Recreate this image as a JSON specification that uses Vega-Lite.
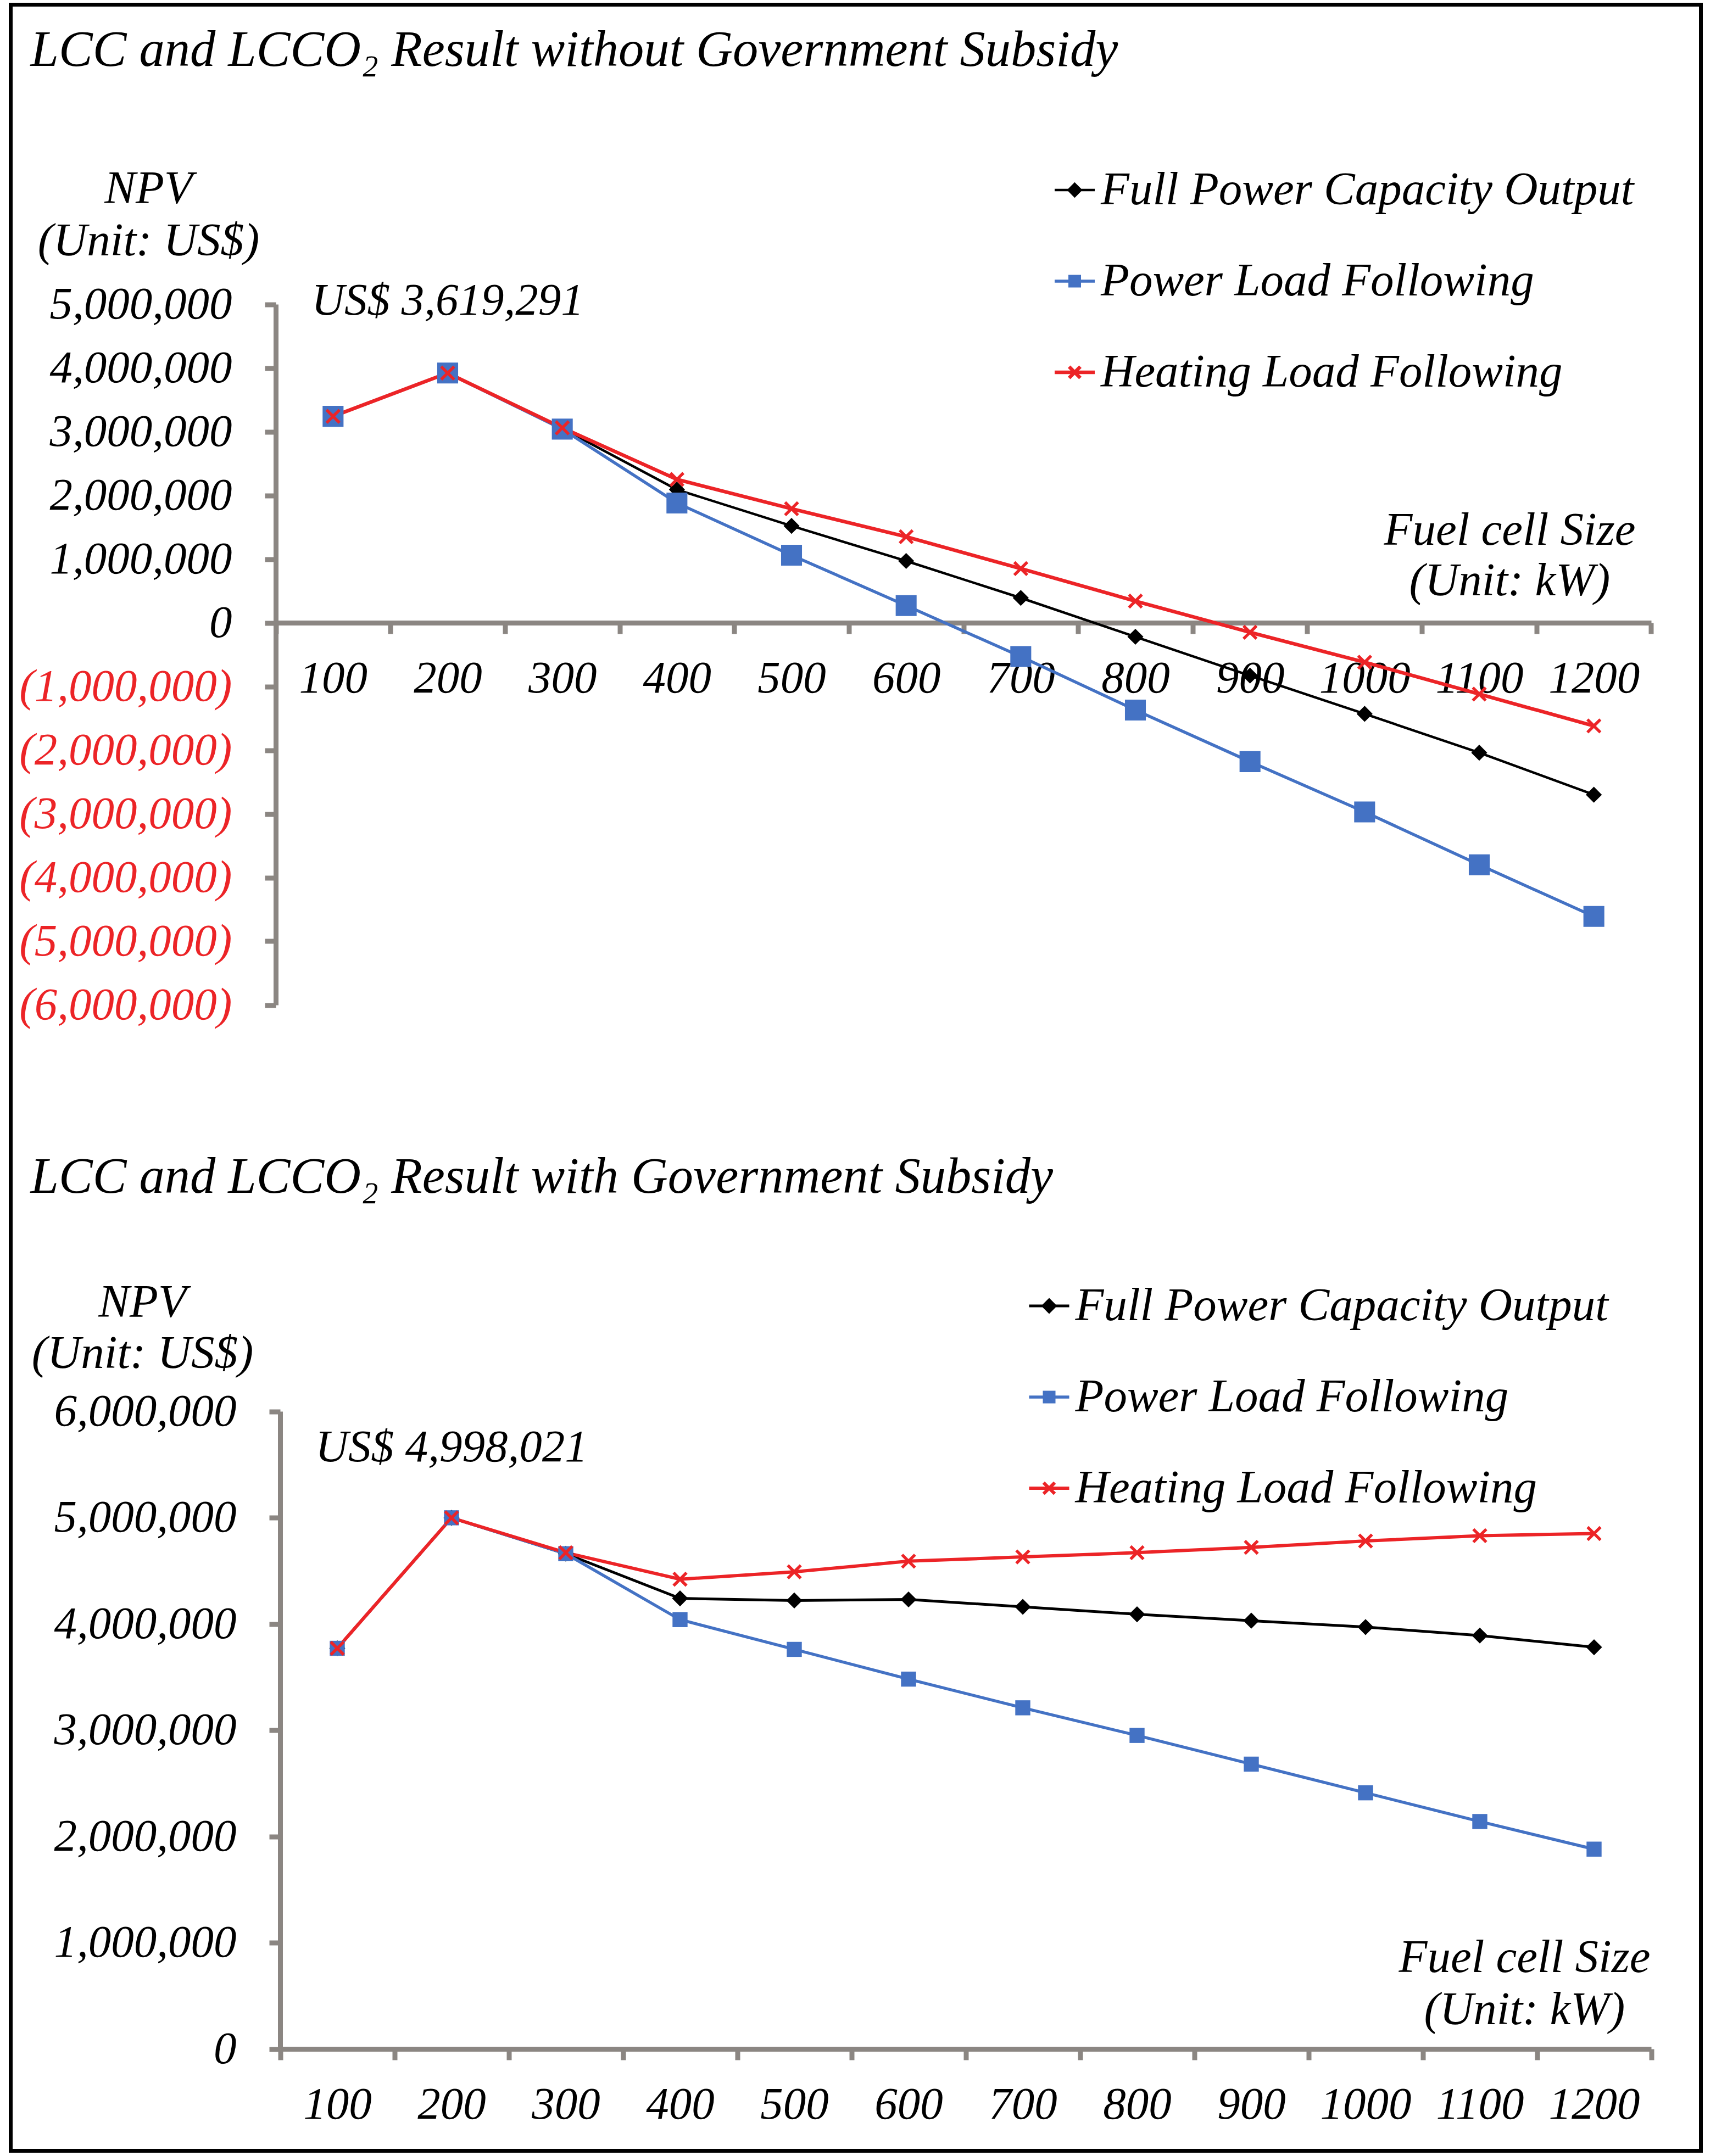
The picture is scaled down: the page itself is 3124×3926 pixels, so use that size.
{
  "$schema": "https://vega.github.io/schema/vega-lite/v6.json",
  "width": 3077,
  "height": 3908,
  "autosize": {"type": "none"},
  "padding": {"left": 19.5, "top": 8.5, "right": 27.5, "bottom": 9.5},
  "background": "white",
  "title": {
    "text": "LCC and LCCO₂ Result without Government Subsidy",
    "subtitle": "LCC and LCCO₂ Result with Government Subsidy",
    "anchor": "start",
    "frame": "group",
    "offset": -2183,
    "dx": 36,
    "font": "Liberation Serif",
    "fontStyle": "italic",
    "fontWeight": "normal",
    "fontSize": 92.5,
    "color": "black",
    "subtitleFont": "Liberation Serif",
    "subtitleFontStyle": "italic",
    "subtitleFontSize": 92.5,
    "subtitleColor": "black",
    "subtitlePadding": 1960
  },
  "config": {
    "view": {"stroke": "black", "strokeWidth": 7, "fill": "white"},
    "axis": {
      "labelFont": "Liberation Serif",
      "labelFontStyle": "italic",
      "labelFontSize": 83,
      "labelColor": "black",
      "labelLimit": 1000,
      "labelAngle": 0,
      "labelOverlap": false,
      "labelFlush": false,
      "domainColor": "#8b8682",
      "domainWidth": 9,
      "tickColor": "#8b8682",
      "tickWidth": 9,
      "tickSize": 20,
      "grid": false,
      "titleFont": "Liberation Serif",
      "titleFontStyle": "italic",
      "titleFontWeight": "normal",
      "titleFontSize": 85,
      "titleColor": "black",
      "titleLimit": 2000,
      "titleAngle": 0,
      "titleAlign": "center",
      "titleBaseline": "alphabetic"
    },
    "legend": {
      "title": null,
      "orient": "none",
      "padding": 0,
      "symbolSize": 5329,
      "symbolStrokeWidth": 5,
      "symbolOpacity": 1,
      "labelFont": "Liberation Serif",
      "labelFontStyle": "italic",
      "labelFontSize": 85,
      "labelColor": "black",
      "labelLimit": 3000,
      "labelOffset": 5,
      "rowPadding": 80
    }
  },
  "datasets": {
    "npv": [
      {"panel": "without", "series": "Full Power Capacity Output", "size": 100, "npv": 3240000},
      {"panel": "without", "series": "Full Power Capacity Output", "size": 200, "npv": 3920000},
      {"panel": "without", "series": "Full Power Capacity Output", "size": 300, "npv": 3050000},
      {"panel": "without", "series": "Full Power Capacity Output", "size": 400, "npv": 2090000},
      {"panel": "without", "series": "Full Power Capacity Output", "size": 500, "npv": 1520000},
      {"panel": "without", "series": "Full Power Capacity Output", "size": 600, "npv": 970000},
      {"panel": "without", "series": "Full Power Capacity Output", "size": 700, "npv": 390000},
      {"panel": "without", "series": "Full Power Capacity Output", "size": 800, "npv": -220000},
      {"panel": "without", "series": "Full Power Capacity Output", "size": 900, "npv": -830000},
      {"panel": "without", "series": "Full Power Capacity Output", "size": 1000, "npv": -1430000},
      {"panel": "without", "series": "Full Power Capacity Output", "size": 1100, "npv": -2040000},
      {"panel": "without", "series": "Full Power Capacity Output", "size": 1200, "npv": -2700000},
      {"panel": "without", "series": "Power Load Following", "size": 100, "npv": 3240000},
      {"panel": "without", "series": "Power Load Following", "size": 200, "npv": 3920000},
      {"panel": "without", "series": "Power Load Following", "size": 300, "npv": 3040000},
      {"panel": "without", "series": "Power Load Following", "size": 400, "npv": 1880000},
      {"panel": "without", "series": "Power Load Following", "size": 500, "npv": 1060000},
      {"panel": "without", "series": "Power Load Following", "size": 600, "npv": 270000},
      {"panel": "without", "series": "Power Load Following", "size": 700, "npv": -530000},
      {"panel": "without", "series": "Power Load Following", "size": 800, "npv": -1370000},
      {"panel": "without", "series": "Power Load Following", "size": 900, "npv": -2180000},
      {"panel": "without", "series": "Power Load Following", "size": 1000, "npv": -2970000},
      {"panel": "without", "series": "Power Load Following", "size": 1100, "npv": -3800000},
      {"panel": "without", "series": "Power Load Following", "size": 1200, "npv": -4610000},
      {"panel": "without", "series": "Heating Load Following", "size": 100, "npv": 3240000},
      {"panel": "without", "series": "Heating Load Following", "size": 200, "npv": 3920000},
      {"panel": "without", "series": "Heating Load Following", "size": 300, "npv": 3060000},
      {"panel": "without", "series": "Heating Load Following", "size": 400, "npv": 2250000},
      {"panel": "without", "series": "Heating Load Following", "size": 500, "npv": 1790000},
      {"panel": "without", "series": "Heating Load Following", "size": 600, "npv": 1350000},
      {"panel": "without", "series": "Heating Load Following", "size": 700, "npv": 850000},
      {"panel": "without", "series": "Heating Load Following", "size": 800, "npv": 340000},
      {"panel": "without", "series": "Heating Load Following", "size": 900, "npv": -150000},
      {"panel": "without", "series": "Heating Load Following", "size": 1000, "npv": -620000},
      {"panel": "without", "series": "Heating Load Following", "size": 1100, "npv": -1120000},
      {"panel": "without", "series": "Heating Load Following", "size": 1200, "npv": -1620000},
      {"panel": "with", "series": "Full Power Capacity Output", "size": 100, "npv": 3770000},
      {"panel": "with", "series": "Full Power Capacity Output", "size": 200, "npv": 4998021},
      {"panel": "with", "series": "Full Power Capacity Output", "size": 300, "npv": 4660000},
      {"panel": "with", "series": "Full Power Capacity Output", "size": 400, "npv": 4240000},
      {"panel": "with", "series": "Full Power Capacity Output", "size": 500, "npv": 4220000},
      {"panel": "with", "series": "Full Power Capacity Output", "size": 600, "npv": 4230000},
      {"panel": "with", "series": "Full Power Capacity Output", "size": 700, "npv": 4160000},
      {"panel": "with", "series": "Full Power Capacity Output", "size": 800, "npv": 4090000},
      {"panel": "with", "series": "Full Power Capacity Output", "size": 900, "npv": 4030000},
      {"panel": "with", "series": "Full Power Capacity Output", "size": 1000, "npv": 3970000},
      {"panel": "with", "series": "Full Power Capacity Output", "size": 1100, "npv": 3890000},
      {"panel": "with", "series": "Full Power Capacity Output", "size": 1200, "npv": 3780000},
      {"panel": "with", "series": "Power Load Following", "size": 100, "npv": 3770000},
      {"panel": "with", "series": "Power Load Following", "size": 200, "npv": 4998021},
      {"panel": "with", "series": "Power Load Following", "size": 300, "npv": 4660000},
      {"panel": "with", "series": "Power Load Following", "size": 400, "npv": 4040000},
      {"panel": "with", "series": "Power Load Following", "size": 500, "npv": 3760000},
      {"panel": "with", "series": "Power Load Following", "size": 600, "npv": 3480000},
      {"panel": "with", "series": "Power Load Following", "size": 700, "npv": 3210000},
      {"panel": "with", "series": "Power Load Following", "size": 800, "npv": 2950000},
      {"panel": "with", "series": "Power Load Following", "size": 900, "npv": 2680000},
      {"panel": "with", "series": "Power Load Following", "size": 1000, "npv": 2410000},
      {"panel": "with", "series": "Power Load Following", "size": 1100, "npv": 2140000},
      {"panel": "with", "series": "Power Load Following", "size": 1200, "npv": 1880000},
      {"panel": "with", "series": "Heating Load Following", "size": 100, "npv": 3770000},
      {"panel": "with", "series": "Heating Load Following", "size": 200, "npv": 4998021},
      {"panel": "with", "series": "Heating Load Following", "size": 300, "npv": 4670000},
      {"panel": "with", "series": "Heating Load Following", "size": 400, "npv": 4420000},
      {"panel": "with", "series": "Heating Load Following", "size": 500, "npv": 4490000},
      {"panel": "with", "series": "Heating Load Following", "size": 600, "npv": 4590000},
      {"panel": "with", "series": "Heating Load Following", "size": 700, "npv": 4630000},
      {"panel": "with", "series": "Heating Load Following", "size": 800, "npv": 4670000},
      {"panel": "with", "series": "Heating Load Following", "size": 900, "npv": 4720000},
      {"panel": "with", "series": "Heating Load Following", "size": 1000, "npv": 4780000},
      {"panel": "with", "series": "Heating Load Following", "size": 1100, "npv": 4830000},
      {"panel": "with", "series": "Heating Load Following", "size": 1200, "npv": 4850000}
    ]
  },
  "layer": [
    {
      "data": {"name": "npv"},
      "encoding": {
        "x": {
          "field": "size",
          "type": "ordinal",
          "scale": {
            "type": "band",
            "domain": [100, 200, 300, 400, 500, 600, 700, 800, 900, 1000, 1100, 1200],
            "range": [482.5, 2986.5],
            "paddingInner": 0,
            "paddingOuter": 0
          },
          "axis": {
            "orient": "bottom",
            "offset": -2782.5,
            "tickBand": "extent",
            "labelPadding": 40,
            "title": ["Fuel cell Size", "(Unit: kW)"],
            "titleX": 2728.5,
            "titleY": -143,
            "titleLineHeight": 92
          }
        },
        "y": {
          "field": "npv",
          "type": "quantitative",
          "scale": {"domain": [-6000000, 5000000], "range": [1821.5, 545.5], "nice": false, "zero": false},
          "axis": {
            "orient": "left",
            "offset": -482.5,
            "values": [-6000000, -5000000, -4000000, -3000000, -2000000, -1000000, 0, 1000000, 2000000, 3000000, 4000000, 5000000],
            "labelPadding": 60,
            "labelExpr": "datum.value < 0 ? '(' + format(-datum.value, ',') + ')' : format(datum.value, ',') + '\u2009'",
            "labelColor": {"condition": {"test": "datum.value < 0", "value": "#ec2427"}, "value": "black"},
            "title": ["NPV", "(Unit: US$)"],
            "titleX": -232,
            "titleY": 360.5,
            "titleLineHeight": 95
          }
        },
        "color": {
          "field": "series",
          "type": "nominal",
          "scale": {
            "domain": ["Full Power Capacity Output", "Power Load Following", "Heating Load Following"],
            "range": ["#000000", "#4472c4", "#ec2427"]
          },
          "legend": {"legendX": 1894.5, "legendY": 295}
        }
      },
      "layer": [
        {
          "transform": [{"filter": "datum.panel === 'without'"}],
          "mark": {"type": "line"},
          "encoding": {
            "strokeWidth": {
              "field": "series",
              "type": "nominal",
              "scale": {"domain": ["Full Power Capacity Output", "Power Load Following", "Heating Load Following"], "range": [4.5, 6.5, 7]},
              "legend": null
            }
          }
        },
        {
          "transform": [{"filter": "datum.panel === 'without' && datum.series === 'Full Power Capacity Output'"}],
          "mark": {"type": "point", "shape": "diamond", "size": 850, "filled": true, "opacity": 1}
        },
        {
          "transform": [{"filter": "datum.panel === 'without' && datum.series === 'Power Load Following'"}],
          "mark": {"type": "point", "shape": "square", "size": 1450, "filled": true, "opacity": 1}
        },
        {
          "transform": [{"filter": "datum.panel === 'without' && datum.series === 'Heating Load Following'"}],
          "mark": {"type": "point", "shape": "M-1,-0.72L-0.72,-1L0,-0.28L0.72,-1L1,-0.72L0.28,0L1,0.72L0.72,1L0,0.28L-0.72,1L-1,0.72L-0.28,0Z", "size": 750, "filled": true, "opacity": 1}
        },
        {
          "transform": [{"filter": "datum.panel === 'legend'"}],
          "mark": {"type": "point", "filled": true, "strokeWidth": 5, "opacity": 1},
          "encoding": {
            "shape": {
              "field": "series",
              "type": "nominal",
              "scale": {
                "domain": ["Full Power Capacity Output", "Power Load Following", "Heating Load Following"],
                "range": ["M-1,0H1M0,-0.3L0.3,0L0,0.3L-0.3,0Z", "M-1,0H1M-0.24,-0.24H0.24V0.24H-0.24Z", "M-1,0H1M-0.28,-0.28L0.28,0.28M-0.28,0.28L0.28,-0.28"]
              },
              "legend": {"legendX": 1894.5, "legendY": 295}
            },
            "stroke": {
              "field": "series",
              "type": "nominal",
              "scale": {
                "domain": ["Full Power Capacity Output", "Power Load Following", "Heating Load Following"],
                "range": ["#000000", "#4472c4", "#ec2427"]
              },
              "legend": {"legendX": 1894.5, "legendY": 295}
            }
          }
        },
        {
          "transform": [{"filter": "datum.panel === 'without' && datum.series === 'Heating Load Following' && datum.size === 200"}],
          "mark": {"type": "text", "font": "Liberation Serif", "fontStyle": "italic", "fontSize": 83, "align": "center", "baseline": "alphabetic", "dy": -106, "color": "black"},
          "encoding": {
            "text": {"value": "US$ 3,619,291"},
            "color": {"value": "black"}
          }
        }
      ]
    },
    {
      "data": {"name": "npv"},
      "encoding": {
        "x": {
          "field": "size",
          "type": "ordinal",
          "scale": {
            "type": "band",
            "domain": [100, 200, 300, 400, 500, 600, 700, 800, 900, 1000, 1100, 1200],
            "range": [490.5, 2986.5],
            "paddingInner": 0,
            "paddingOuter": 0
          },
          "axis": {
            "orient": "bottom",
            "offset": -185.5,
            "tickBand": "extent",
            "labelPadding": 40,
            "title": ["Fuel cell Size", "(Unit: kW)"],
            "titleX": 2755.5,
            "titleY": -141,
            "titleLineHeight": 95
          }
        },
        "y": {
          "field": "npv",
          "type": "quantitative",
          "scale": {"domain": [0, 6000000], "range": [3722.5, 2561.5], "nice": false, "zero": false},
          "axis": {
            "orient": "left",
            "offset": -490.5,
            "values": [0, 1000000, 2000000, 3000000, 4000000, 5000000, 6000000],
            "labelPadding": 60,
            "labelExpr": "format(datum.value, ',') + '\u2009'",
            "title": ["NPV", "(Unit: US$)"],
            "titleX": -251,
            "titleY": 2388.5,
            "titleLineHeight": 93
          }
        },
        "color": {
          "field": "series",
          "type": "nominal",
          "scale": {
            "domain": ["Full Power Capacity Output", "Power Load Following", "Heating Load Following"],
            "range": ["#000000", "#4472c4", "#ec2427"]
          },
          "legend": {"legendX": 1848, "legendY": 2327}
        }
      },
      "layer": [
        {
          "transform": [{"filter": "datum.panel === 'with'"}],
          "mark": {"type": "line"},
          "encoding": {
            "strokeWidth": {
              "field": "series",
              "type": "nominal",
              "scale": {"domain": ["Full Power Capacity Output", "Power Load Following", "Heating Load Following"], "range": [5, 6, 6.5]},
              "legend": null
            }
          }
        },
        {
          "transform": [{"filter": "datum.panel === 'with' && datum.series === 'Full Power Capacity Output'"}],
          "mark": {"type": "point", "shape": "diamond", "size": 850, "filled": true, "opacity": 1}
        },
        {
          "transform": [{"filter": "datum.panel === 'with' && datum.series === 'Power Load Following'"}],
          "mark": {"type": "point", "shape": "square", "size": 750, "filled": true, "opacity": 1}
        },
        {
          "transform": [{"filter": "datum.panel === 'with' && datum.series === 'Heating Load Following'"}],
          "mark": {"type": "point", "shape": "M-1,-0.72L-0.72,-1L0,-0.28L0.72,-1L1,-0.72L0.28,0L1,0.72L0.72,1L0,0.28L-0.72,1L-1,0.72L-0.28,0Z", "size": 750, "filled": true, "opacity": 1}
        },
        {
          "transform": [{"filter": "datum.panel === 'legend'"}],
          "mark": {"type": "point", "filled": true, "strokeWidth": 5, "opacity": 1},
          "encoding": {
            "shape": {
              "field": "series",
              "type": "nominal",
              "scale": {
                "domain": ["Full Power Capacity Output", "Power Load Following", "Heating Load Following"],
                "range": ["M-1,0H1M0,-0.3L0.3,0L0,0.3L-0.3,0Z", "M-1,0H1M-0.24,-0.24H0.24V0.24H-0.24Z", "M-1,0H1M-0.28,-0.28L0.28,0.28M-0.28,0.28L0.28,-0.28"]
              },
              "legend": {"legendX": 1848, "legendY": 2327}
            },
            "stroke": {
              "field": "series",
              "type": "nominal",
              "scale": {
                "domain": ["Full Power Capacity Output", "Power Load Following", "Heating Load Following"],
                "range": ["#000000", "#4472c4", "#ec2427"]
              },
              "legend": {"legendX": 1848, "legendY": 2327}
            }
          }
        },
        {
          "transform": [{"filter": "datum.panel === 'with' && datum.series === 'Heating Load Following' && datum.size === 200"}],
          "mark": {"type": "text", "font": "Liberation Serif", "fontStyle": "italic", "fontSize": 83, "align": "center", "baseline": "alphabetic", "dy": -103, "color": "black"},
          "encoding": {
            "text": {"value": "US$ 4,998,021"},
            "color": {"value": "black"}
          }
        }
      ]
    }
  ],
  "resolve": {
    "scale": {
      "x": "independent",
      "y": "independent",
      "color": "independent",
      "shape": "independent",
      "stroke": "independent",
      "strokeWidth": "independent"
    }
  }
}
